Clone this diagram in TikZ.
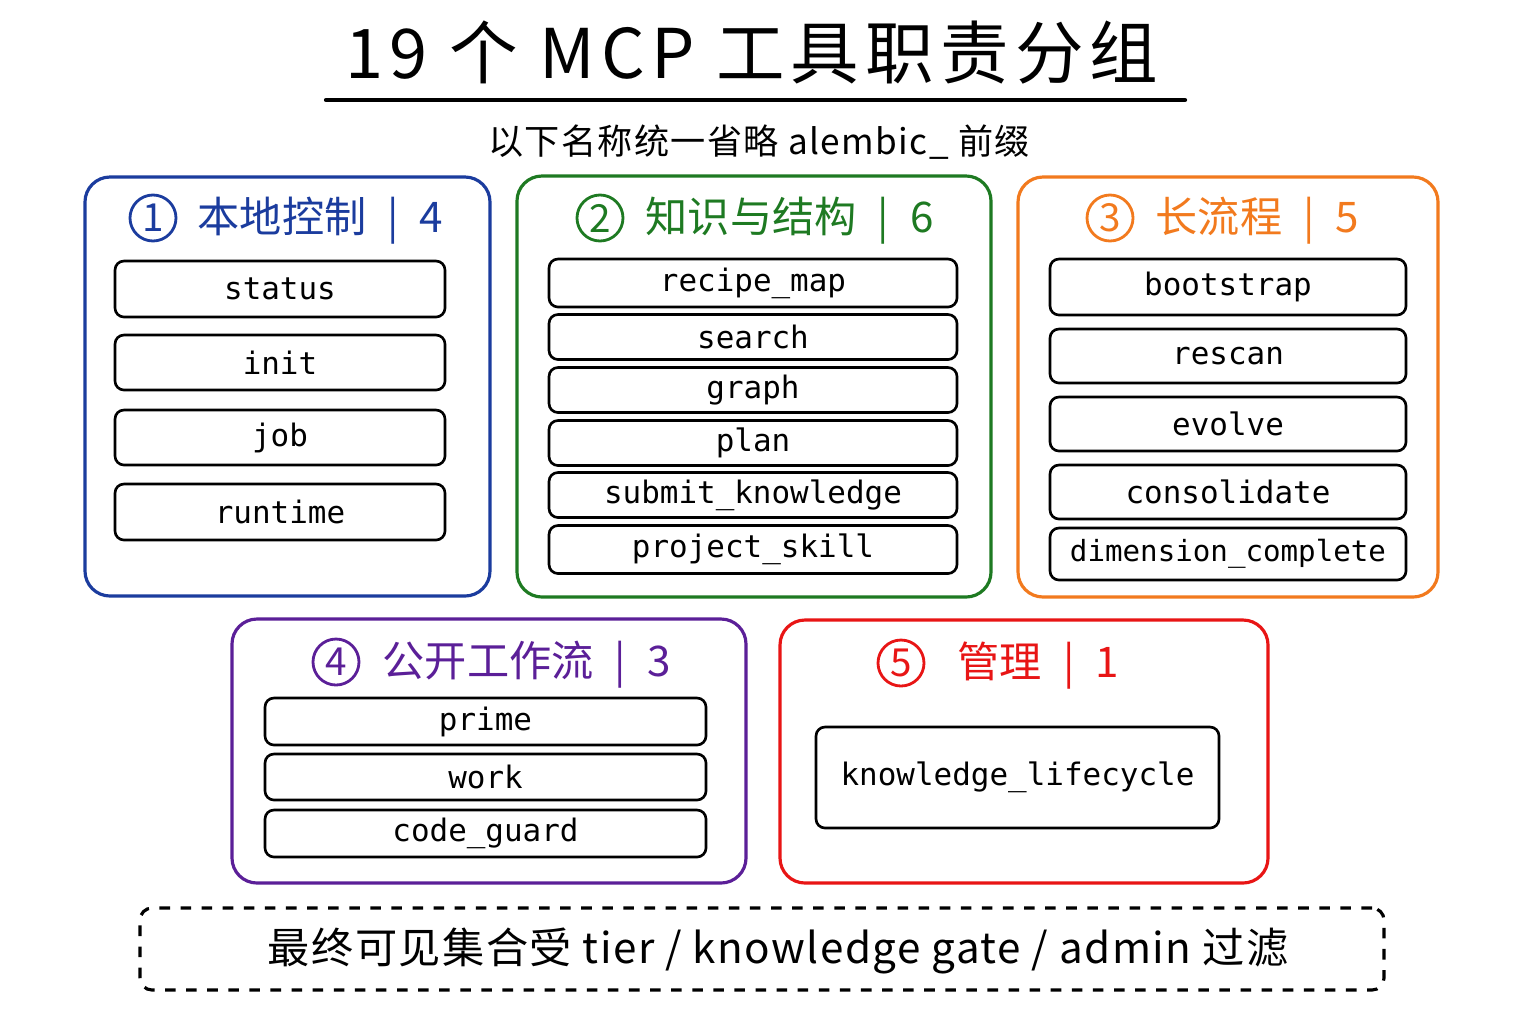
\documentclass[tikz,border=0pt]{standalone}
\usepackage{fontspec}
\setmainfont{Noto Sans CJK SC}
\newfontfamily\toolfont{DejaVu Sans Mono}
\usetikzlibrary{positioning}

\definecolor{grpblue}{HTML}{1B3C9E}
\definecolor{grpgreen}{HTML}{1E7A22}
\definecolor{grporange}{HTML}{F27A1E}
\definecolor{grppurple}{HTML}{5B1F98}
\definecolor{grpred}{HTML}{E81515}

\begin{document}
\begin{tikzpicture}[
    group/.style={rectangle, rounded corners=0.25cm, line width=0.9pt, inner sep=0pt},
    tool/.style={rectangle, draw=black, rounded corners=0.09cm, line width=0.75pt, inner sep=0pt, font=\toolfont\fontsize{8.8}{10}\selectfont},
    num/.style={circle, draw, line width=0.8pt, minimum size=0.46cm, inner sep=0pt, font=\fontsize{11}{12}\selectfont},
    grouptitle/.style={anchor=west, inner sep=0pt, font=\fontsize{12}{14}\selectfont}
]

% fixed page size
\useasboundingbox[fill=white] (0,0) rectangle (15.36,-10.24);

% Title
\node[inner sep=0pt, font=\fontsize{19.5}{22}\selectfont\addfontfeatures{LetterSpace=9}] (title) at (7.52,-0.53) {19 个 MCP 工具职责分组};
\draw[line width=1.2pt, line cap=round] (3.26,-1.0) -- (11.85,-1.0);
\node[inner sep=0pt, font=\fontsize{10}{11}\selectfont\addfontfeatures{LetterSpace=4}] (subtitle) at (7.59,-1.42) {以下名称统一省略 alembic\_ 前缀};

% Group 1: local control
\node[group, draw=grpblue, minimum width=4.05cm, minimum height=4.19cm] (local) at (2.875,-3.865) {};
\node[num, draw=grpblue, text=grpblue] (n1) at (1.53,-2.18) {1};
\node[grouptitle, text=grpblue] (local title) at (1.97,-2.21) {本地控制\enspace|\enspace4};
\node[tool, minimum width=3.30cm, minimum height=0.56cm] (status) at (2.80,-2.89) {status};
\node[tool, minimum width=3.30cm, minimum height=0.55cm] (init) at (2.80,-3.625) {init};
\node[tool, minimum width=3.30cm, minimum height=0.55cm] (job) at (2.80,-4.375) {job};
\node[tool, minimum width=3.30cm, minimum height=0.56cm] (runtime) at (2.80,-5.12) {runtime};

% Group 2: knowledge and structure
\node[group, draw=grpgreen, minimum width=4.74cm, minimum height=4.21cm] (knowledge) at (7.54,-3.865) {};
\node[num, draw=grpgreen, text=grpgreen] (n2) at (6.00,-2.18) {2};
\node[grouptitle, text=grpgreen] (knowledge title) at (6.45,-2.21) {知识与结构\enspace|\enspace6};
\node[tool, minimum width=4.08cm, minimum height=0.48cm] (recipe) at (7.53,-2.83) {recipe\_map};
\node[tool, minimum width=4.08cm, minimum height=0.45cm] (search) at (7.53,-3.37) {search};
\node[tool, minimum width=4.08cm, minimum height=0.45cm] (graph) at (7.53,-3.90) {graph};
\node[tool, minimum width=4.08cm, minimum height=0.45cm] (plan) at (7.53,-4.43) {plan};
\node[tool, minimum width=4.08cm, minimum height=0.45cm] (submit) at (7.53,-4.95) {submit\_knowledge};
\node[tool, minimum width=4.08cm, minimum height=0.48cm] (skill) at (7.53,-5.495) {project\_skill};

% Group 3: long workflows
\node[group, draw=grporange, minimum width=4.20cm, minimum height=4.20cm] (longflow) at (12.28,-3.87) {};
\node[num, draw=grporange, text=grporange] (n3) at (11.10,-2.18) {3};
\node[grouptitle, text=grporange] (longflow title) at (11.55,-2.21) {长流程\enspace|\enspace5};
\node[tool, minimum width=3.56cm, minimum height=0.56cm] (bootstrap) at (12.28,-2.87) {bootstrap};
\node[tool, minimum width=3.56cm, minimum height=0.54cm] (rescan) at (12.28,-3.56) {rescan};
\node[tool, minimum width=3.56cm, minimum height=0.54cm] (evolve) at (12.28,-4.24) {evolve};
\node[tool, minimum width=3.56cm, minimum height=0.54cm] (consolidate) at (12.28,-4.92) {consolidate};
\node[tool, minimum width=3.56cm, minimum height=0.52cm, font=\toolfont\fontsize{8.3}{10}\selectfont] (dimension) at (12.28,-5.54) {dimension\_complete};

% Group 4: public workflow
\node[group, draw=grppurple, minimum width=5.14cm, minimum height=2.64cm] (public) at (4.89,-7.51) {};
\node[num, draw=grppurple, text=grppurple] (n4) at (3.36,-6.62) {4};
\node[grouptitle, text=grppurple] (public title) at (3.82,-6.65) {公开工作流\enspace|\enspace3};
\node[tool, minimum width=4.41cm, minimum height=0.47cm] (prime) at (4.855,-7.215) {prime};
\node[tool, minimum width=4.41cm, minimum height=0.46cm] (work) at (4.855,-7.77) {work};
\node[tool, minimum width=4.41cm, minimum height=0.47cm] (guard) at (4.855,-8.335) {code\_guard};

% Group 5: admin
\node[group, draw=grpred, minimum width=4.88cm, minimum height=2.63cm] (admin) at (10.24,-7.515) {};
\node[num, draw=grpred, text=grpred] (n5) at (9.01,-6.63) {5};
\node[grouptitle, text=grpred] (admin title) at (9.57,-6.66) {管理\enspace|\enspace1};
\node[tool, minimum width=4.03cm, minimum height=1.01cm] (lifecycle) at (10.175,-7.775) {knowledge\_lifecycle};

% Visibility filter note
\node[rectangle, draw=black, dashed, line width=0.9pt, rounded corners=0.12cm, minimum width=12.44cm, minimum height=0.82cm, inner sep=0pt] (filter) at (7.62,-9.49) {};
\node[inner sep=0pt, font=\fontsize{12}{14}\selectfont\addfontfeatures{LetterSpace=3.5}] (filter text) at (7.78,-9.51) {最终可见集合受 tier / knowledge gate / admin 过滤};

\end{tikzpicture}
\end{document}
